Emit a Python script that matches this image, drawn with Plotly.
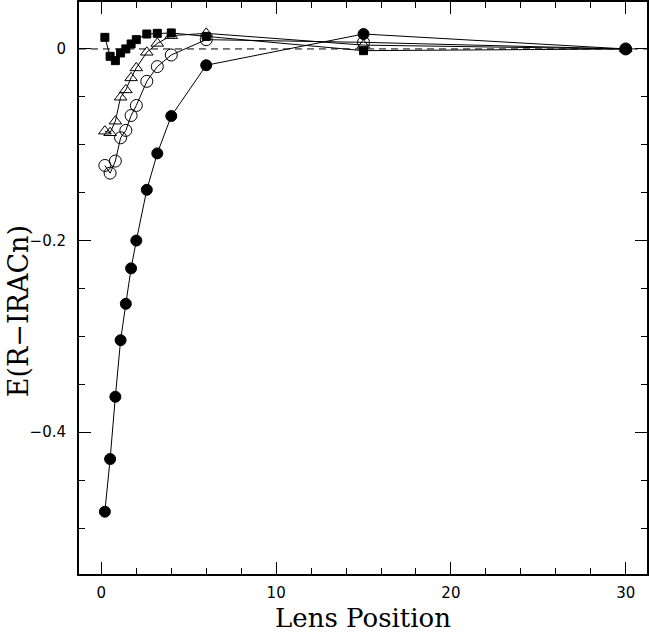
import plotly.graph_objects as go

# Lens positions (shared by all series)
lens_pos = [0.2, 0.5, 0.8, 1.1, 1.4, 1.7, 2.0, 2.6, 3.2, 4.0, 6.0, 15, 30]

# E(R-IRACn) series
filled_circles = [-0.483, -0.428, -0.363, -0.304, -0.266, -0.229, -0.200,
                  -0.147, -0.109, -0.070, -0.017, 0.0156, 0.0]
open_circles = [-0.1216, -0.1296, -0.117, -0.0927, -0.085, -0.0695, -0.059,
                -0.0338, -0.0184, -0.0063, 0.0097, 0.0069, 0.0]
open_triangles = [-0.0858, -0.0875, -0.0754, -0.0504, -0.0427, -0.0302, -0.0198,
                  -0.0035, 0.0058, 0.0139, 0.0163, 0.004, 0.0]
filled_squares = [0.0121, -0.0077, -0.0122, -0.0042, 0.0, 0.0052, 0.0097,
                  0.0156, 0.0163, 0.0167, 0.0131, -0.0018, 0.0]

x_ticks = [0, 10, 20, 30]
y_ticks = [0, -0.2, -0.4]

fig = go.Figure()

def add(y, symbol, size):
    fig.add_trace(go.Scatter(
        x=lens_pos, y=y, mode="lines+markers",
        line=dict(color="black", width=1),
        marker=dict(symbol=symbol, size=size, color="black",
                    line=dict(color="black", width=1)),
        showlegend=False, cliponaxis=False))

add(filled_squares, "square", 8)
add(open_triangles, "triangle-up-open", 11)
add(open_circles, "circle-open", 12)
add(filled_circles, "circle", 11)

fig.add_shape(type="line", xref="paper", yref="y", x0=0, x1=1, y0=0, y1=0,
              line=dict(color="black", width=1, dash="7px,5px"), layer="below")

axis_common = dict(
    showgrid=False, zeroline=False, showline=True, linecolor="black",
    linewidth=2, mirror="ticks", ticks="inside", ticklen=12, tickwidth=1,
    tickcolor="black",
    tickfont=dict(family="DejaVu Sans", size=15, color="black"),
)

fig.update_xaxes(
    **axis_common, range=[-1.28, 31.22], tickmode="array",
    tickvals=x_ticks, ticktext=[str(v) for v in x_ticks],
    minor=dict(dtick=2, ticks="inside", ticklen=6, tickcolor="black", tickwidth=1),
    ticklabelstandoff=4,
    title=dict(text="Lens Position", font=dict(family="DejaVu Serif", size=26, color="black"),
               standoff=8),
)
fig.update_yaxes(
    **axis_common, range=[-0.548, 0.049], tickmode="array",
    tickvals=y_ticks, ticktext=["0", "\u22120.2", "\u22120.4"],
    minor=dict(dtick=0.05, tick0=0, ticks="inside", ticklen=6, tickcolor="black", tickwidth=1),
    ticklabelstandoff=8,
)

fig.add_annotation(
    text="E(R\u2212IRACn)", xref="paper", yref="paper", x=-0.105, y=0.46,
    xanchor="center", yanchor="middle", textangle=-90, showarrow=False,
    font=dict(family="DejaVu Serif", size=27, color="black"))

fig.update_layout(
    width=649, height=637,
    margin=dict(l=79, r=0, t=1, b=63),
    paper_bgcolor="white", plot_bgcolor="white",
)

fig.write_html("out.html",
               config={"displayModeBar": False},
               post_script="document.body.style.margin='0';document.body.style.overflow='hidden';")
